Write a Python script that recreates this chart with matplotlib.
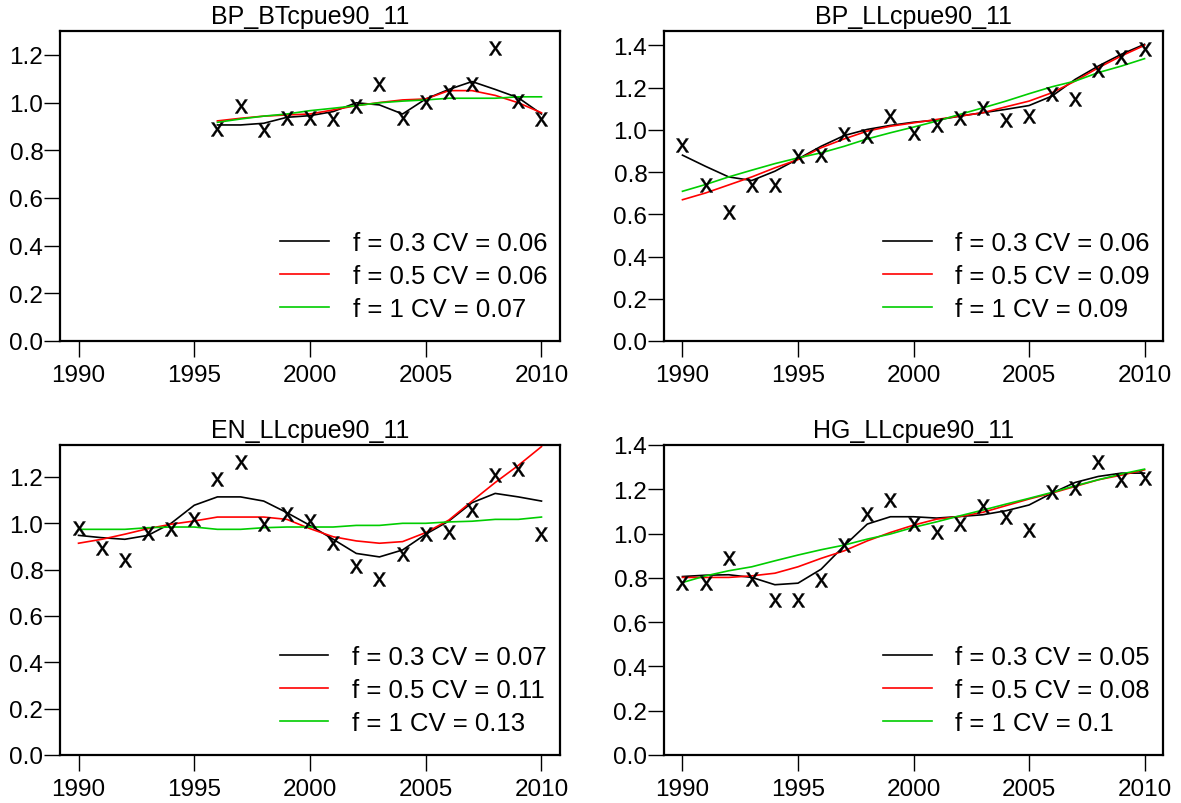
import matplotlib
matplotlib.use("Agg")
import matplotlib.pyplot as plt
from matplotlib.ticker import FormatStrFormatter, MultipleLocator

plt.rcParams['font.family'] = ['Liberation Sans', 'DejaVu Sans']
plt.rcParams['mathtext.fontset'] = 'custom'
plt.rcParams['mathtext.rm'] = 'Liberation Sans'

TICK_FS = 17.5
TITLE_FS = 18
LEG_FS = 18.5

# ---- BP_BTcpue90_11 ----
bt_years = list(range(1996, 2011))
bt_obs = [0.89, 0.985, 0.885, 0.934, 0.934, 0.929, 0.985, 1.078, 0.936, 1.001,
          1.043, 1.078, 1.23, 1.008, 0.929]
bt_f03 = [0.906, 0.906, 0.913, 0.938, 0.945, 0.962, 0.999, 0.99, 0.952, 1.015,
          1.055, 1.088, 1.055, 1.02, 0.952]
bt_f05 = [0.923, 0.934, 0.943, 0.948, 0.952, 0.969, 0.987, 1.0, 1.011, 1.015,
          1.05, 1.05, 1.03, 0.999, 0.957]
bt_f1 = [0.917, 0.931, 0.943, 0.952, 0.966, 0.976, 0.987, 0.999, 1.006, 1.011,
         1.018, 1.018, 1.018, 1.024, 1.024]

# ---- BP_LLcpue90_11 ----
bpll_years = list(range(1990, 2011))
bpll_obs = [0.93, 0.741, 0.609, 0.741, 0.741, 0.878, 0.883, 0.978, 0.97, 1.065,
            0.986, 1.025, 1.057, 1.104, 1.046, 1.065, 1.168, 1.144, 1.283, 1.347, 1.384]
bpll_f03 = [0.88, 0.827, 0.777, 0.76, 0.804, 0.862, 0.922, 0.973, 1.002, 1.021,
            1.036, 1.046, 1.065, 1.081, 1.097, 1.115, 1.16, 1.239, 1.302, 1.358, 1.405]
bpll_f05 = [0.669, 0.701, 0.739, 0.777, 0.82, 0.859, 0.915, 0.957, 0.994, 1.017,
            1.033, 1.049, 1.065, 1.081, 1.109, 1.136, 1.176, 1.231, 1.294, 1.35, 1.4]
bpll_f1 = [0.709, 0.741, 0.777, 0.809, 0.84, 0.867, 0.891, 0.922, 0.957, 0.986,
           1.013, 1.041, 1.073, 1.104, 1.136, 1.171, 1.204, 1.231, 1.271, 1.302, 1.337]

# ---- EN_LLcpue90_11 ----
en_years = list(range(1990, 2011))
en_obs = [0.981, 0.895, 0.842, 0.96, 0.977, 1.017, 1.19, 1.265, 0.999, 1.042,
          1.01, 0.917, 0.816, 0.758, 0.869, 0.953, 0.963, 1.058, 1.207, 1.233, 0.953]
en_f03 = [0.948, 0.938, 0.931, 0.948, 1.0, 1.078, 1.114, 1.114, 1.096, 1.046,
          0.991, 0.931, 0.87, 0.855, 0.885, 0.953, 1.01, 1.089, 1.129, 1.114, 1.096]
en_f05 = [0.914, 0.931, 0.953, 0.977, 0.996, 1.01, 1.027, 1.027, 1.027, 1.017,
          0.977, 0.942, 0.924, 0.914, 0.921, 0.96, 1.014, 1.096, 1.176, 1.25, 1.331]
en_f1 = [0.974, 0.974, 0.974, 0.981, 0.984, 0.984, 0.974, 0.974, 0.981, 0.984,
         0.984, 0.984, 0.991, 0.991, 1.0, 1.0, 1.006, 1.009, 1.017, 1.017, 1.027]

# ---- HG_LLcpue90_11 ----
hg_years = list(range(1990, 2011))
hg_obs = [0.779, 0.779, 0.888, 0.794, 0.699, 0.699, 0.79, 0.949, 1.088, 1.153,
          1.043, 1.005, 1.043, 1.126, 1.077, 1.016, 1.189, 1.204, 1.325, 1.242, 1.249]
hg_f03 = [0.806, 0.812, 0.814, 0.802, 0.769, 0.776, 0.839, 0.945, 1.043, 1.076,
          1.076, 1.07, 1.077, 1.085, 1.103, 1.129, 1.183, 1.231, 1.258, 1.273, 1.273]
hg_f05 = [0.802, 0.802, 0.802, 0.809, 0.821, 0.85, 0.888, 0.922, 0.967, 1.005,
          1.038, 1.065, 1.077, 1.096, 1.126, 1.156, 1.183, 1.213, 1.243, 1.264, 1.288]
hg_f1 = [0.779, 0.809, 0.832, 0.85, 0.877, 0.903, 0.927, 0.948, 0.975, 0.998,
         1.028, 1.053, 1.08, 1.106, 1.133, 1.159, 1.186, 1.216, 1.243, 1.269, 1.291]

titles = ["BP_BTcpue90_11", "BP_LLcpue90_11", "EN_LLcpue90_11", "HG_LLcpue90_11"]
cvs = [("0.06", "0.06", "0.07"),
       ("0.06", "0.09", "0.09"),
       ("0.07", "0.11", "0.13"),
       ("0.05", "0.08", "0.1")]
ytops = [1.30, 1.468, 1.338, 1.40]

panels = [
    (bt_years, bt_obs, bt_f03, bt_f05, bt_f1),
    (bpll_years, bpll_obs, bpll_f03, bpll_f05, bpll_f1),
    (en_years, en_obs, en_f03, en_f05, en_f1),
    (hg_years, hg_obs, hg_f03, hg_f05, hg_f1),
]

fig = plt.figure(figsize=(11.81, 8.04), dpi=100)
W, H = 1181.0, 804.0
# plot boxes in pixels: left, top, right, bottom
boxes = [(60, 32, 560, 342), (664, 32, 1163, 342),
         (60, 446, 560, 756), (664, 446, 1163, 756)]

for i, (yrs, obs, f03, f05, f1) in enumerate(panels):
    x0, y0, x1, y1 = boxes[i]
    ax = fig.add_axes([x0 / W, 1 - y1 / H, (x1 - x0) / W, (y1 - y0) / H])
    cv = cvs[i]
    ax.plot(yrs, f03, color='black', lw=1.2, label="f = 0.3 CV = " + cv[0])
    ax.plot(yrs, f05, color='#FF0000', lw=1.2, label="f = 0.5 CV = " + cv[1])
    ax.plot(yrs, f1, color='#00CD00', lw=1.2, label="f = 1 CV = " + cv[2])
    ax.plot(yrs, obs, ls='none', marker=r'$\mathrm{x}$', ms=10, color='black',
            markeredgewidth=0.3)

    ax.set_xlim(1989.2, 2010.8)
    ax.set_ylim(0, ytops[i])
    ax.set_xticks([1990, 1995, 2000, 2005, 2010])
    ax.yaxis.set_major_locator(MultipleLocator(0.2))
    ax.yaxis.set_major_formatter(FormatStrFormatter('%.1f'))
    ax.tick_params(axis='x', length=11.5, width=1.0, pad=5, labelsize=TICK_FS)
    ax.tick_params(axis='y', length=11.5, width=1.0, pad=0.5, labelsize=TICK_FS)
    for s in ax.spines.values():
        s.set_linewidth(1.6)
    ax.set_title(titles[i], fontsize=TITLE_FS, pad=6)

    ax.legend(loc='lower right', bbox_to_anchor=(0.974, 0.065), frameon=False,
              fontsize=LEG_FS, handlelength=1.9, handletextpad=0.93,
              labelspacing=0.34, borderpad=0, borderaxespad=0)

fig.savefig("out.png", dpi=100)
